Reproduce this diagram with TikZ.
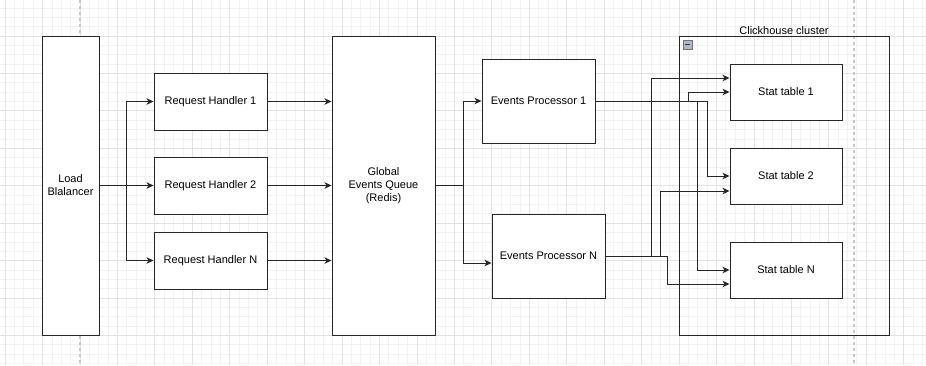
\documentclass[tikz,border=0pt]{standalone}
\usepackage{fontspec}
\setmainfont{Liberation Sans}
\usetikzlibrary{arrows.meta}
\begin{document}
\begin{tikzpicture}[x=1pt,y=-1pt,
  box/.style={draw=black!85,line width=1pt,fill=white,align=center,inner sep=0pt,
    font=\fontsize{11}{13}\selectfont},
  arr/.style={-{Stealth[length=7pt,width=6.5pt,inset=2pt]},line width=1pt,black!85},
  minorgrid/.style={black!5,line width=0.8pt},
  majorgrid/.style={black!11,line width=0.8pt}]
  \useasboundingbox (0,0) rectangle (926,365);
  % background grid
  \foreach \i in {0,...,98} \draw[minorgrid] ({5.12+9.36*\i},0) -- ++(0,365);
  \foreach \j in {0,...,38} \draw[minorgrid] (0,{7.92+9.36*\j}) -- ++(926,0);
  \foreach \i in {0,...,24} \draw[majorgrid] ({5.12+37.44*\i},0) -- ++(0,365);
  \foreach \j in {1,...,9} \draw[majorgrid] (0,{-1.44+37.44*\j}) -- ++(926,0);
  \draw[black!22,line width=1.3pt,dash pattern=on 3pt off 3pt] (80,0) -- (80,365);
  \draw[black!22,line width=1.3pt,dash pattern=on 3pt off 3pt] (854,0) -- (854,365);

  \node[box,minimum width=57pt,minimum height=299pt] (lb) at (70.5,185.5) {Load\\Blalancer};
  \node[box,minimum width=113pt,minimum height=57pt] (rh1) at (210.5,101.5) {Request Handler 1};
  \node[box,minimum width=113pt,minimum height=57pt] (rh2) at (210.5,185.5) {Request Handler 2};
  \node[box,minimum width=113pt,minimum height=57pt] (rhn) at (210.5,260.5) {Request Handler N};
  \node[box,minimum width=103pt,minimum height=299pt] (geq) at (383.5,185.5) {Global\\Events Queue\\(Redis)};
  \node[box,minimum width=113pt,minimum height=84pt] (ep1) at (538.5,101) {Events Processor 1};
  \node[box,minimum width=113pt,minimum height=84pt] (epn) at (548.5,256) {Events Processor N};

  \node[box,fill=none,minimum width=210pt,minimum height=299pt,
    label={[font=\fontsize{11}{13}\selectfont,inner sep=1pt]above:Clickhouse cluster}] (ch) at (784,185.5) {};
  \draw[black!55,fill={rgb,255:red,176;green,186;blue,196}] (683,40) rectangle (692,49);
  \draw[black!80,line width=1.2pt] (685,44.5) -- (690,44.5);
  \node[box,minimum width=112pt,minimum height=56pt] (st1) at (786,92) {Stat table 1};
  \node[box,minimum width=112pt,minimum height=56pt] (st2) at (786,176) {Stat table 2};
  \node[box,minimum width=112pt,minimum height=56pt] (stn) at (786,270) {Stat table N};

  \coordinate (lbsplit) at (126,185.5);
  \draw[arr] (lb.east) -- (lbsplit) |- (rh1.west);
  \draw[arr] (lb.east) -- (rh2.west);
  \draw[arr] (lbsplit) |- (rhn.west);
  \draw[arr] (rh1.east) -- (rh1.east -| geq.west);
  \draw[arr] (rh2.east) -- (rh2.east -| geq.west);
  \draw[arr] (rhn.east) -- (rhn.east -| geq.west);

  \coordinate (qsplit) at (463,185.5);
  \draw[arr] (geq.east) -- (qsplit) |- (ep1.west);
  \draw[arr] (qsplit) |- ([yshift=-7pt]epn.west);

  \draw[arr] (ep1.east) -- ++(93,0) |- (st1.west);
  \draw[arr] (ep1.east) -- ++(112,0) |- (st2.west);
  \draw[arr] (ep1.east) -- ++(102,0) |- (stn.west);
  \draw[arr] (epn.east) -- ++(46,0) |- ([yshift=14pt]st1.west);
  \draw[arr] (epn.east) -- ++(55,0) |- ([yshift=-15pt]st2.west);
  \draw[arr] (epn.east) -- ++(62,0) |- ([yshift=-14pt]stn.west);
\end{tikzpicture}
\end{document}
